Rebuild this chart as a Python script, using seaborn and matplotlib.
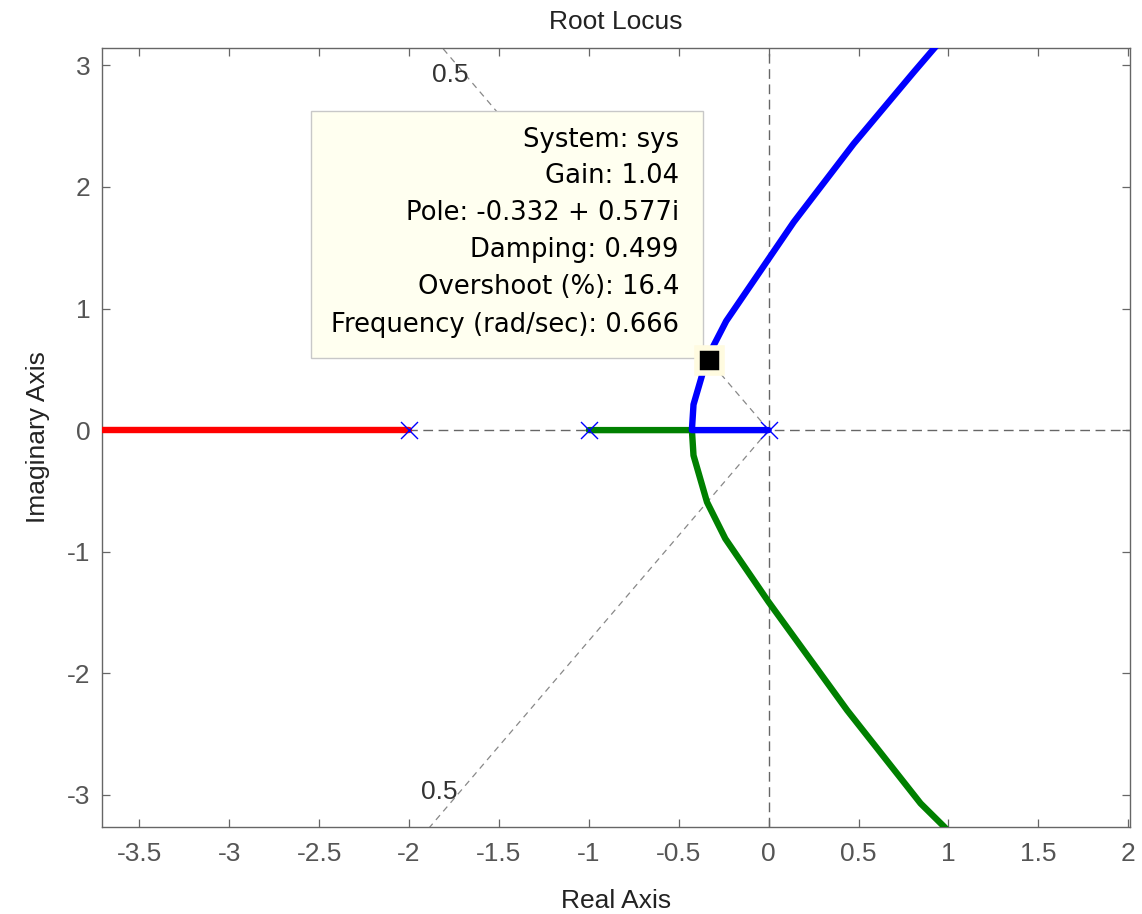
import matplotlib
matplotlib.use("Agg")
import matplotlib.pyplot as plt
import seaborn as sns
import pandas as pd
import numpy as np
from matplotlib.patches import Rectangle

# ---- data ----
open_loop_poles_re = [0.0, -1.0, -2.0]
open_loop_poles_im = [0.0, 0.0, 0.0]

red_re = [-2.0, -3.9]
red_im = [0.0, 0.0]

blue_re = [0.0, -0.427, -0.418, -0.343, -0.236, 0.139, 0.473, 0.807, 0.919, 0.98]
blue_im = [0.0, 0.0, 0.21, 0.59, 0.897, 1.71, 2.355, 2.944, 3.137, 3.24]

green_re = [-1.0, -0.427, -0.418, -0.343, -0.241, 0.0, 0.437, 0.845, 0.975, 1.0]
green_im = [0.0, 0.0, -0.208, -0.592, -0.893, -1.414, -2.305, -3.07, -3.26, -3.30]

damping_value = 0.5
damping_label = "0.5"
cursor_re, cursor_im = -0.332, 0.577
datatip_lines = ["System: sys", "Gain: 1.04", "Pole: -0.332 + 0.577i",
                 "Damping: 0.499", "Overshoot (%): 16.4",
                 "Frequency (rad/sec): 0.666"]

x_ticks = [-3.5, -3, -2.5, -2, -1.5, -1, -0.5, 0, 0.5, 1, 1.5, 2]
x_ticklabels = ["-3.5", "-3", "-2.5", "-2", "-1.5", "-1", "-0.5", "0", "0.5", "1", "1.5", "2"]
y_ticks = [-3, -2, -1, 0, 1, 2, 3]
y_ticklabels = ["-3", "-2", "-1", "0", "1", "2", "3"]
xlim = (-3.71, 2.01)
ylim = (-3.26, 3.14)

# ---- styling ----
sns.set_theme(style="white")
plt.rcParams["font.family"] = ["Liberation Sans", "DejaVu Sans"]
plt.rcParams["axes.unicode_minus"] = False

W, H = 1142, 914
fig = plt.figure(figsize=(W / 100, H / 100), dpi=100)
ax = fig.add_axes([101.7 / W, 1 - 826.5 / H, (1130 - 101.7) / W, (826.5 - 48.3) / H])
ax.set_xlim(*xlim)
ax.set_ylim(*ylim)

# grid / reference lines
ax.axhline(0, color="#666666", lw=1.0, dashes=(7, 4), zorder=1)
ax.axvline(0, color="#666666", lw=1.0, dashes=(7, 4), zorder=1)

# damping rays (zeta = 0.5)
ang = np.arccos(damping_value)
r = 10
for sgn in (1, -1):
    ax.plot([0, -r * np.cos(ang)], [0, sgn * r * np.sin(ang)], color="#888888",
            lw=0.9, dashes=(5, 4), zorder=1)
ax.text(-1.77, 2.92, damping_label, fontsize=19, color="#333333", ha="center", va="center")
ax.text(-1.83, -2.98, damping_label, fontsize=19, color="#333333", ha="center", va="center")

# branches
lw = 4.6
sns.lineplot(x=red_re, y=red_im, sort=False, estimator=None, color="#ff0000", lw=lw, ax=ax, zorder=3)
sns.lineplot(x=green_re, y=green_im, sort=False, estimator=None, color="#008000", lw=lw, ax=ax, zorder=3)
sns.lineplot(x=blue_re, y=blue_im, sort=False, estimator=None, color="#0000ff", lw=lw, ax=ax, zorder=3)

# open-loop poles
poles = pd.DataFrame({"re": open_loop_poles_re, "im": open_loop_poles_im})
sns.scatterplot(data=poles, x="re", y="im", marker="x", s=150, color="#0000ff",
                linewidth=1.0, ax=ax, zorder=4)

# data cursor marker
ax.plot([cursor_re], [cursor_im], marker="s", markersize=18, markerfacecolor="black",
        markeredgecolor="#fffbe0", markeredgewidth=4, zorder=6)

# axes cosmetics
ax.set_xticks(x_ticks)
ax.set_xticklabels(x_ticklabels)
ax.set_yticks(y_ticks)
ax.set_yticklabels(y_ticklabels)
for sp in ax.spines.values():
    sp.set_color("#666666")
    sp.set_linewidth(1.0)
ax.tick_params(axis="both", which="both", direction="in", length=6, width=0.9,
               color="#666666", labelcolor="#555555", labelsize=19,
               top=True, right=True, bottom=True, left=True)
ax.tick_params(axis="x", pad=11)
ax.tick_params(axis="y", pad=8)
ax.set_xlabel("Real Axis", fontsize=19, color="#222222", labelpad=17)
ax.set_ylabel("Imaginary Axis", fontsize=19, color="#222222", labelpad=12)
ax.set_title("Root Locus", fontsize=19, color="#222222", pad=14)

# datatip box (figure pixel coordinates)
box = Rectangle((310.7 / W, 1 - 358.3 / H), (703.3 - 310.7) / W, (358.3 - 110.7) / H,
                transform=fig.transFigure, facecolor="#fffff0", edgecolor="#c8c8c8",
                lw=1.0, zorder=5)
ax.add_artist(box)
box.set_clip_on(False)
ys = [140, 176, 213, 250, 287, 325]
for txt, yy in zip(datatip_lines, ys):
    fig.text(679 / W, 1 - yy / H, txt, fontsize=18.6, family="DejaVu Sans",
             color="black", ha="right", va="center", zorder=7)

fig.savefig("out.png", dpi=100)
